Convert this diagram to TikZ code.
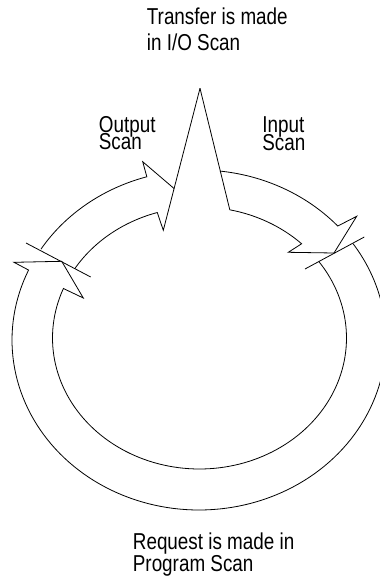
\documentclass[tikz,border=0pt]{standalone}
\usepackage{fontspec}
\setmainfont[FakeStretch=0.82]{Liberation Sans}
\usetikzlibrary{calc}
\begin{document}
\begin{tikzpicture}[x=1pt,y=-1pt, line width=0.8pt, line join=miter,
  lbl/.style={anchor=base west, inner sep=0pt, font=\fontsize{23}{26}\selectfont},
  ringline/.style={draw=black, line width=0.8pt}]
\useasboundingbox (0,0) rectangle (380,579);
% ellipse parameters (outer / inner)
\def\ocx{199}\def\ocy{340}\def\orx{187}\def\ory{170}
\def\icx{199.5}\def\icy{338}\def\irx{147}\def\iry{131}
% key points
\coordinate (apex) at (200,88.3);
\coordinate (iis) at ({\icx+\irx*cos(281.9)},{\icy+\iry*sin(281.9)});
\coordinate (ob1) at (142.7,161.7);
\coordinate (ib1) at (163.3,230.3);
\coordinate (otip) at ($(ib1)!0.294!(apex)$);
\coordinate (rb1) at (356.7,216.3);
\coordinate (rtip) at (334,253);
\coordinate (rb2) at (288.3,252.3);
\coordinate (lb1) at (14,262.3);
\coordinate (ltip) at (61.7,261.3);
\coordinate (lb2) at (83.3,298);
\coordinate (lt1) at (26,243);
\coordinate (lt2) at (90.7,277);
\coordinate (rt1) at (305,269);
\coordinate (rt2) at (364.3,237);
% program scan segment (large lower arc) with arrowhead at left
\draw[ringline] plot[domain=325.5:564.3, samples=120] ({\ocx+\orx*cos(\x)},{\ocy+\ory*sin(\x)})
  -- (lb1) -- (ltip) -- (lb2)
  -- plot[domain=562.2:324.3, samples=120] ({\icx+\irx*cos(\x)},{\icy+\iry*sin(\x)});
% input scan segment with arrowhead at right
\draw[ringline] (apex) -- (iis);
\draw[ringline] plot[domain=276.4:317.9, samples=40] ({\ocx+\orx*cos(\x)},{\ocy+\ory*sin(\x)})
  -- (rb1) -- (rtip) -- (rb2)
  -- plot[domain=314:281.9, samples=40] ({\icx+\irx*cos(\x)},{\icy+\iry*sin(\x)});
% output scan segment with arrowhead into spike
\draw[ringline] (otip) -- (ob1)
  -- plot[domain=253.8:212.3, samples=40] ({\ocx+\orx*cos(\x)},{\ocy+\ory*sin(\x)});
\draw[ringline] (apex) -- (ib1)
  -- plot[domain=253.3:212, samples=40] ({\icx+\irx*cos(\x)},{\icy+\iry*sin(\x)});
% boundary ticks
\draw[ringline] (lt1) -- (lt2);
\draw[ringline] (rt1) -- (rt2);
% labels
\node[lbl] (tr1) at (146.5,24) {Transfer is made};
\node[lbl] (tr2) at (146.5,50) {in I/O Scan};
\node[lbl] (os1) at (98.5,132) {Output};
\node[lbl] (os2) at (98.5,149.5) {Scan};
\node[lbl] (is1) at (262,132.5) {Input};
\node[lbl] (is2) at (262,150) {Scan};
\node[lbl] (rq1) at (132.5,549.3) {Request is made in};
\node[lbl] (rq2) at (132.5,571) {Program Scan};
\end{tikzpicture}
\end{document}
